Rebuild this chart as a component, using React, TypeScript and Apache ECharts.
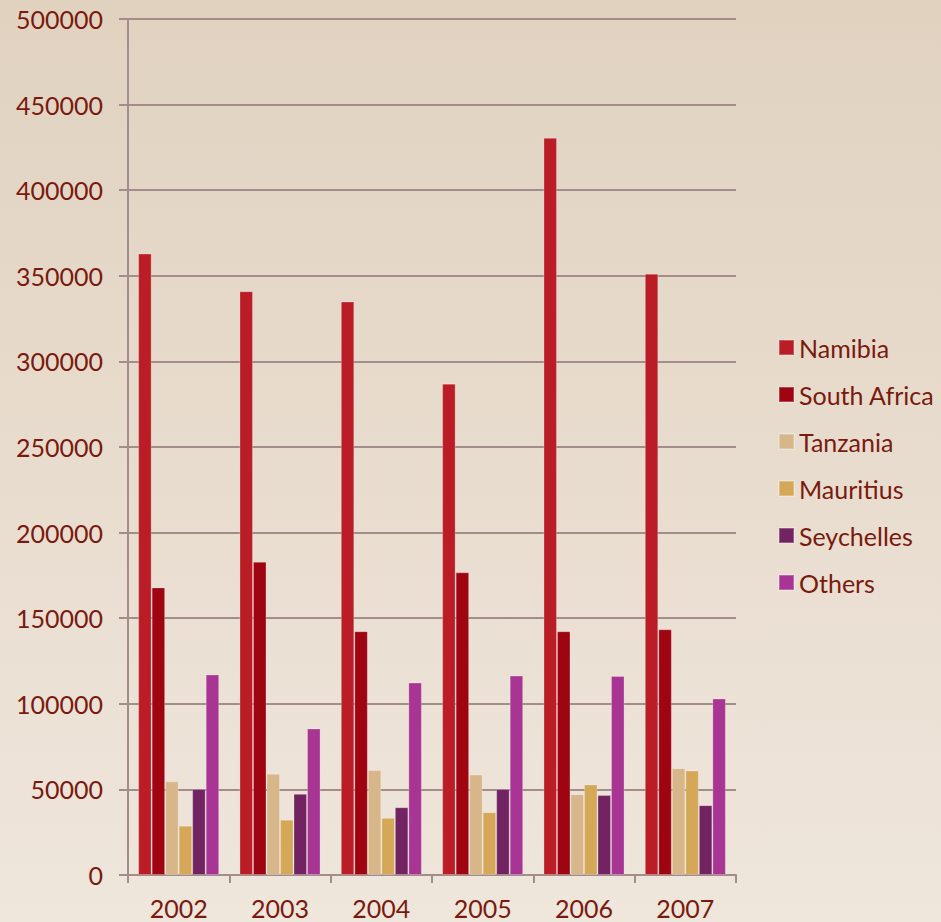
import React, { useEffect, useRef } from "react";
import * as echarts from "echarts";

const years = ["2002", "2003", "2004", "2005", "2006", "2007"];
const namibia = [363000, 341000, 335000, 287000, 430600, 351200];
const southAfrica = [168000, 183000, 142400, 176800, 142400, 143500];
const tanzania = [54700, 59100, 61300, 58700, 47200, 62400];
const mauritius = [28800, 32300, 33400, 36700, 52900, 61100];
const seychelles = [50200, 47400, 39600, 50200, 46700, 40800];
const others = [117100, 85600, 112400, 116500, 116300, 103100];

const seriesNames = ["Namibia", "South Africa", "Tanzania", "Mauritius", "Seychelles", "Others"];
const seriesData = [namibia, southAfrica, tanzania, mauritius, seychelles, others];
const colors = ["#bb1d27", "#9e0510", "#d7b68a", "#d4a857", "#722462", "#a83593"];

const textColor = "#7a1a0e";
const lineColor = "#a38c8b";
const fontFamily = "Lato, 'Open Sans', sans-serif";

export default function App() {
  const ref = useRef<HTMLDivElement>(null);
  useEffect(() => {
    if (!ref.current) return;
    const chart = echarts.init(ref.current, null, { renderer: "svg" });
    chart.setOption({
      animation: false,
      backgroundColor: {
        type: "linear",
        x: 0,
        y: 0,
        x2: 0,
        y2: 1,
        colorStops: [
          { offset: 0, color: "#e1d2c0" },
          { offset: 1, color: "#efe6dc" },
        ],
      },
      textStyle: { fontFamily },
      grid: { left: 128, right: 205, top: 19, bottom: 47, containLabel: false },
      legend: {
        orient: "vertical",
        left: 773,
        top: 330,
        icon: "rect",
        itemWidth: 15,
        itemHeight: 15,
        itemGap: 22,
        data: seriesNames,
        textStyle: { color: textColor, fontSize: 25, fontFamily, lineHeight: 25 },
      },
      xAxis: {
        type: "category",
        data: years,
        axisLine: { show: true, lineStyle: { color: lineColor, width: 2 } },
        axisTick: { show: true, length: 8, lineStyle: { color: lineColor, width: 2 } },
        axisLabel: { color: textColor, fontSize: 25, margin: 20, fontFamily },
        splitLine: { show: false },
      },
      yAxis: {
        type: "value",
        min: 0,
        max: 500000,
        interval: 50000,
        axisLine: { show: true, lineStyle: { color: lineColor, width: 2 } },
        axisTick: { show: true, length: 9, lineStyle: { color: lineColor, width: 2 } },
        axisLabel: {
          color: textColor,
          fontSize: 25,
          margin: 25,
          fontFamily,
          formatter: (v: number) => String(v),
        },
        splitLine: { show: true, lineStyle: { color: lineColor, width: 2 } },
      },
      series: seriesNames.map((name, i) => ({
        name,
        type: "bar",
        data: seriesData[i],
        barGap: "0%",
        barCategoryGap: "20%",
        itemStyle: {
          color: colors[i],
          borderColor: "rgba(255,255,255,0.25)",
          borderWidth: 1,
        },
      })),
    });
    return () => chart.dispose();
  }, []);
  return (
    <div
      ref={ref}
      style={{ position: "fixed", left: 0, top: 0, width: 941, height: 922 }}
    />
  );
}
